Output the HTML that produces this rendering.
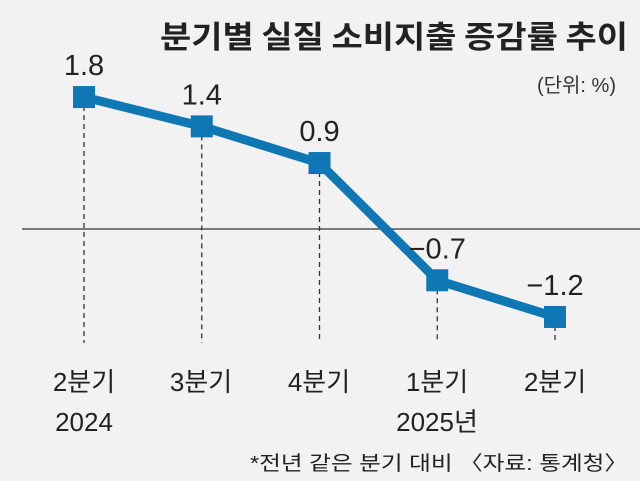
<!DOCTYPE html>
<html><head><meta charset="utf-8"><style>
body{margin:0;background:#f2f2f2;}
svg{display:block;font-family:"Liberation Sans","Noto Sans CJK KR",sans-serif;}
</style></head><body>
<svg width="640" height="481" viewBox="0 0 640 481">
<rect width="640" height="481" fill="#f2f2f2"/>
<text x="160" y="48" textLength="468" lengthAdjust="spacingAndGlyphs" font-size="31" font-weight="bold" fill="#222" font-family="Noto Sans CJK KR, sans-serif">분기별 실질 소비지출 증감률 추이</text>
<text x="616" y="92" text-anchor="end" font-size="20" fill="#333">(단위: %)</text>
<line x1="22" y1="229" x2="640" y2="229" stroke="#333" stroke-width="1.3"/>
<g id="g"></g>
<text x="84" y="391" text-anchor="middle" font-size="26" fill="#222">2분기</text>
<text x="84" y="431" text-anchor="middle" font-size="26" fill="#222">2024</text>
<text x="201" y="391" text-anchor="middle" font-size="26" fill="#222">3분기</text>
<text x="319" y="391" text-anchor="middle" font-size="26" fill="#222">4분기</text>
<text x="437" y="391" text-anchor="middle" font-size="26" fill="#222">1분기</text>
<text x="437" y="431" text-anchor="middle" font-size="26" fill="#222">2025년</text>
<text x="555" y="391" text-anchor="middle" font-size="26" fill="#222">2분기</text>
<text x="250" y="470" textLength="378" lengthAdjust="spacingAndGlyphs" font-size="20" fill="#222">*전년 같은 분기 대비 〈자료: 통계청〉</text>
</svg>
<script>
const categories=["2분기 2024","3분기","4분기","1분기 2025","2분기"];
const values=[1.8,1.4,0.9,-0.7,-1.2];
const valueLabels=["1.8","1.4","0.9","−0.7","−1.2"];
const NS="http://www.w3.org/2000/svg";
const g=document.getElementById('g');
function x(i){return 84+i*117.75;}
function y(v){return 229-v*73.3;}
function mk(t,a){const e=document.createElementNS(NS,t);for(const k in a)e.setAttribute(k,a[k]);g.appendChild(e);return e;}
values.forEach((v,i)=>{
 const d=mk('line',{x1:x(i),y1:y(v),x2:x(i),y2:343,stroke:'#333','stroke-width':1.3,'stroke-dasharray':'5,4'});
 
 
});
const pl=mk('polyline',{points:values.map((v,i)=>x(i)+','+y(v)).join(' '),fill:'none',stroke:'#0f78b4','stroke-width':9,'stroke-linejoin':'round'});


values.forEach((v,i)=>{
 const r=mk('rect',{x:x(i)-11,y:y(v)-11,width:22,height:22,fill:'#0f78b4'});
 
 
 const t=mk('text',{x:x(i),y:y(v)-22,'text-anchor':'middle','font-size':29,fill:'#222'});
 t.textContent=valueLabels[i];
 
 
});
</script>
</body></html>
